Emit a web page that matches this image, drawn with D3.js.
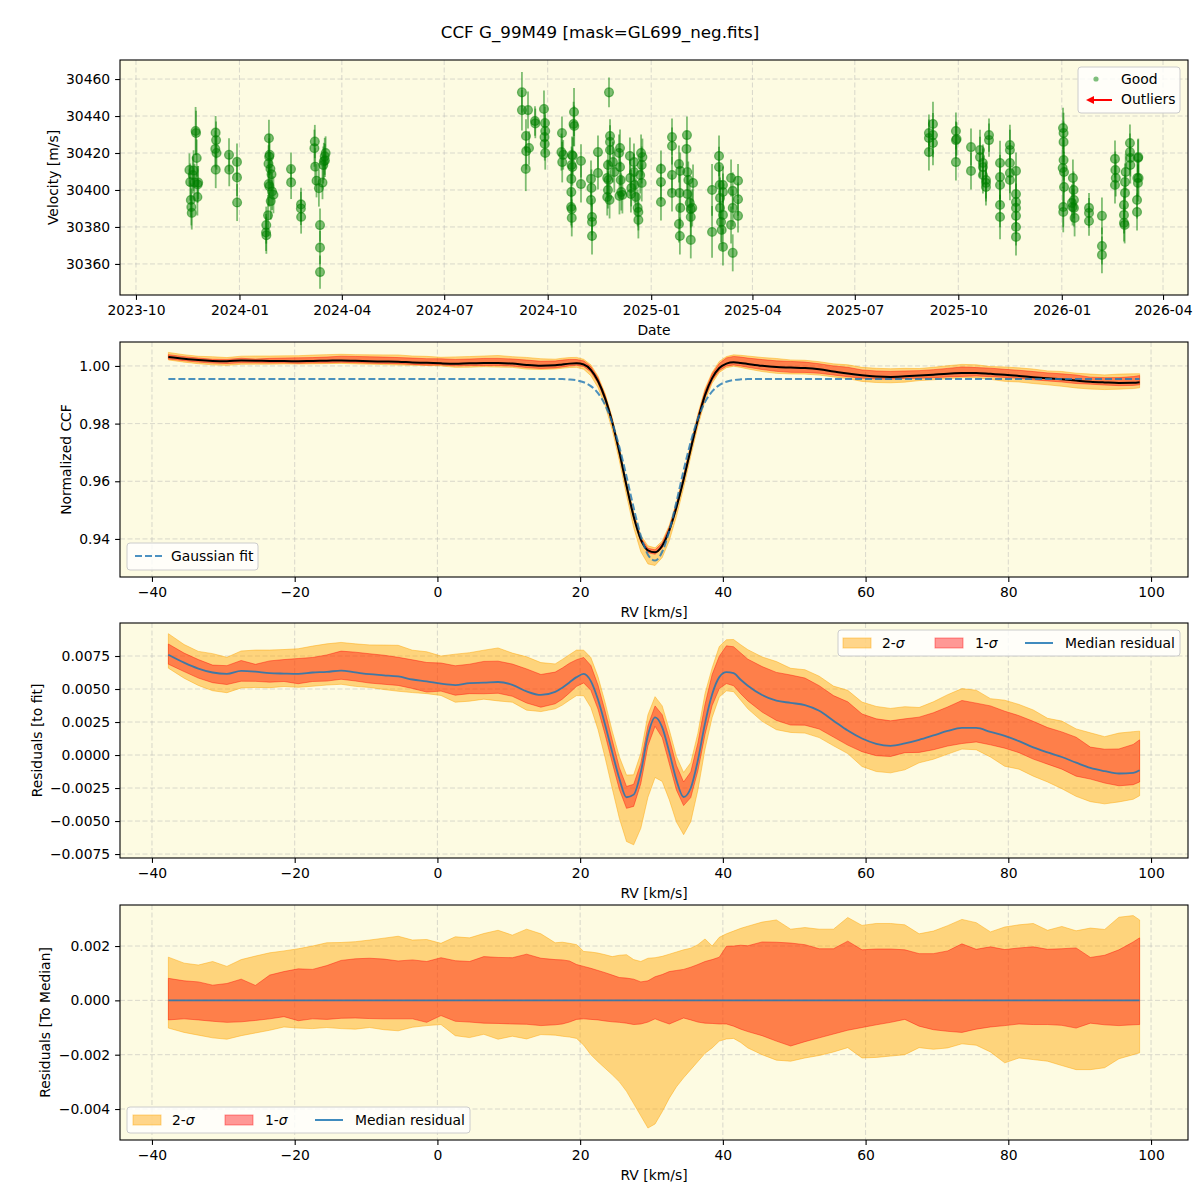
<!DOCTYPE html>
<html>
<head>
<meta charset="utf-8">
<script src="https://cdn.jsdelivr.net/npm/d3@7"></script>
<style>
  body { margin: 0; background: #fff; }
</style>
</head>
<body>
<div id="chart"></div>
<script>
// ---------- data: RV time series (MJD, m/s) ----------
const obsMjd = [
  60265.5,60266.2,60266.8,60267.2,60267.6,60268.5,60269.2,60270.0,60271.0,60271.4,60272.0,60272.6,60273.3,60272.8,
  60288.8,60289.2,60288.5,60289.6,60288.9,
  60300.7,60300.9,
  60307.8,60307.8,60307.9,
  60336.2,60336.8,60336.4,60335.8,60337.5,60338.5,60336.0,60336.6,60339.0,60340.2,60337.8,60335.4,60333.8,60333.6,60333.9,
  60355.8,60355.9,
  60364.7,60364.6,60364.8,
  60377.0,60376.6,60377.3,60378.5,60380.6,60381.6,60381.6,60381.6,60383.8,60384.5,60385.0,60385.8,60386.6,60386.0,
  // season 2
  60561.1,60561.1,60566.5,60564.7,60564.9,60564.5,60567.4,60572.7,60573.0,60580.7,
  60581.6,60581.8,60581.2,60581.4,60581.8,
  60596.7,60596.2,60596.9,60597.8,
  60607.4,60607.0,60607.6,
  60605.6,60606.3,60605.9,60605.2,60605.0,60605.0,60604.8,60605.4,60605.4,
  60613.6,60613.6,
  60622.5,60622.9,60622.5,60623.4,60623.4,60623.4,
  60628.7,60628.7,
  60638.5,60639.4,60639.4,60639.4,
  60637.6,60636.9,60638.0,60637.6,60636.9,60639.0,
  60642.0,60643.2,
  60648.3,60647.4,60648.3,60648.9,60649.4,60650.4,60647.8,
  60657.1,60657.4,60658.3,60658.0,
  60660.7,60660.7,60661.3,60662.4,
  60667.0,60668.2,60667.6,60666.2,60667.6,60664.0,60664.6,60664.6,
  60684.7,60684.7,60684.7,
  60694.5,60694.5,60694.5,60694.5,
  60700.7,60701.8,60701.2,60701.8,60700.7,60701.5,
  60707.8,60707.4,60708.1,60709.0,60708.1,60710.3,60711.2,60712.5,60711.2,60711.2,
  60713.2,
  60730.1,60730.1,
  60736.3,60736.3,60736.9,60737.2,60737.2,60738.1,60738.7,
  60739.8,60739.8,60739.8,60739.8,
  60747.0,60747.0,60748.5,60748.5,60748.5,
  60753.2,60753.2,60753.2,
  // season 3
  60922.9,60922.9,60922.9,60926.5,60926.5,60926.5,
  60946.9,60946.9,60946.9,60947.5,
  60960.3,60960.3,
  60968.3,60968.3,60970.9,60970.9,60970.9,60973.6,60973.6,60973.6,
  60976.3,60976.3,
  60986.1,60986.1,60986.1,60986.1,60986.1,
  60994.9,60994.9,60994.9,60994.9,60994.9,
  61000.3,61000.3,61000.3,61000.3,61000.3,61000.3,61000.3,
  61042.1,61042.6,61042.6,61041.8,61042.6,61043.0,61043.0,61042.3,61042.3,
  61050.9,61051.5,61051.8,61051.8,61052.4,61050.6,61050.0,
  61065.2,61065.2,61065.2,
  61076.7,61076.7,61076.7,
  61088.3,61088.6,61088.3,61089.0,
  61096.3,61096.3,61096.3,61096.9,61097.2,61097.2,61097.8,
  61101.6,61101.6,61101.9,61101.9,
  61107.9,61107.9,61108.1,61108.7,61109.0,61109.3,61108.7
];
const obsVel = [
  30410.8,30404.3,30394.6,30390.8,30387.6,30408.1,30410.5,30404.0,30431.9,30430.8,30417.3,30396.2,30404.0,30403.0,
  30431.0,30427.0,30422.2,30420.0,30411.0,
  30419.0,30411.0,
  30415.2,30406.8,30393.2,
  30428.0,30419.0,30418.0,30414.2,30411.5,30408.5,30403.2,30402.0,30399.2,30397.4,30394.0,30386.3,30381.0,30377.0,30375.5,
  30411.3,30404.1,
  30392.2,30390.0,30385.4,
  30426.2,30422.6,30412.6,30405.0,30401.0,30381.0,30368.8,30355.6,30404.0,30413.5,30415.5,30418.2,30420.0,30416.0,
  30452.8,30443.2,30443.2,30429.2,30421.0,30411.4,30422.7,30437.3,30436.0,30443.8,
  30436.2,30431.9,30428.6,30424.9,30420.0,
  30430.8,30420.5,30415.1,30419.0,
  30442.2,30435.7,30434.6,
  30418.9,30418.4,30412.4,30413.5,30406.0,30398.9,30390.8,30389.7,30384.9,
  30415.7,30403.2,
  30406.0,30401.1,30394.6,30385.4,30382.7,30375.1,
  30420.5,30409.2,
  30452.8,30429.2,30426.0,30421.6,
  30413.5,30406.5,30405.4,30400.0,30396.2,30394.6,
  30415.1,30409.7,
  30422.7,30420.0,30412.4,30405.4,30398.9,30397.3,30396.8,
  30418.4,30406.5,30401.1,30397.8,
  30415.1,30409.7,30402.7,30396.2,
  30420.0,30417.8,30413.5,30408.1,30403.8,30390.3,30388.1,30383.8,
  30411.4,30404.3,30393.5,
  30428.6,30423.8,30408.1,30398.4,
  30414.0,30410.3,30398.4,30390.3,30381.6,30375.1,
  30429.7,30422.2,30409.7,30405.4,30397.8,30393.0,30389.7,30390.3,30385.4,30373.0,
  30403.8,
  30400.0,30377.3,
  30418.4,30412.4,30402.7,30395.7,30390.3,30382.7,30378.4,
  30369.2,30386.5,30402.7,30398.9,
  30406.5,30381.1,30399.5,30390.3,30366.0,
  30405.0,30395.0,30386.0,
  30430.8,30428.1,30420.5,30435.7,30429.7,30425.4,
  30431.9,30427.0,30415.1,30427.6,
  30423.2,30410.3,
  30421.6,30417.8,30414.6,30412.4,30408.1,30405.4,30401.6,30403.8,
  30429.7,30427.0,
  30414.6,30407.0,30402.7,30391.9,30385.4,
  30424.3,30421.6,30414.6,30409.2,30405.4,
  30410.3,30397.8,30393.5,30390.3,30386.0,30380.0,30374.6,
  30433.5,30430.8,30426.0,30411.9,30416.2,30409.7,30401.6,30390.8,30388.1,
  30406.5,30400.0,30394.6,30390.3,30384.9,30390.8,30393.0,
  30390.3,30383.2,30387.6,
  30386.0,30369.7,30364.9,
  30416.8,30410.8,30402.7,30406.5,
  30391.9,30386.5,30382.2,30381.1,30404.3,30398.4,30409.7,
  30425.4,30420.5,30413.5,30417.3,
  30394.6,30388.1,30406.5,30417.3,30417.8,30406.5,30403.8
];
const obsErr = [
  9,10,9,10,9,10,11,10,13,12,10,10,9,10,
  9,10,10,9,10,
  9,9,
  10,10,10,
  10,11,10,10,9,9,12,11,10,10,10,11,10,10,10,
  9,9,
  9,9,9,
  9,10,10,9,10,9,9,9,9,10,10,10,9,9,
  11,11,10,9,10,12,9,8,8,10,
  9,9,9,9,9,
  9,10,11,8,
  13,12,11,
  10,10,10,10,10,10,10,10,10,
  9,10,
  10,10,10,10,10,10,
  9,9,
  8,9,9,9,
  10,10,10,10,10,10,
  11,11,
  10,10,10,10,10,10,10,
  10,10,10,10,
  10,10,10,10,
  10,10,10,10,10,10,10,10,
  10,10,10,
  10,10,10,10,
  10,10,10,10,10,10,
  10,10,10,10,10,10,10,10,10,10,
  10,
  14,14,
  11,11,11,11,11,11,11,
  10,10,10,10,
  10,10,10,10,10,
  9,9,9,
  10,10,10,12,12,12,
  10,10,10,9,
  10,10,
  11,11,10,10,10,10,10,10,
  9,9,
  12,12,12,12,12,
  11,11,11,11,11,
  10,10,10,10,10,10,10,
  11,11,11,11,11,11,11,11,11,
  10,10,10,10,10,10,10,
  8,8,8,
  10,10,10,
  10,10,10,10,
  10,10,10,10,10,10,10,
  10,10,10,10,
  10,10,10,10,10,10,10
];

// ---------- data: CCF profiles on the RV grid (km/s) ----------
const rvGrid = [
  -37.7,-35.5,-33.5,-31.5,-29.5,-27.5,-25.5,-23.5,-21.5,-19.5,-17.5,-15.5,-13.5,-11.5,-9.5,-7.5,-5.5,-3.5,-1.5,0.5,2.5,4.5,6.5,8.5,10.5,12.5,14.5,16.5,
  17.5,18.5,19.5,20.5,21.5,22.5,23.5,24.5,25.5,26.5,27.5,28.5,29.5,30.5,31.5,32.5,33.5,34.5,35.5,36.5,37.5,38.5,39.5,40.5,41.5,42.5,43.5,
  45.5,47.5,49.5,51.5,53.5,55.5,57.5,59.5,61.5,63.5,65.5,67.5,69.5,71.5,73.5,75.5,77.5,79.5,81.5,83.5,85.5,87.5,89.5,91.5,93.5,95.5,97.5,98.4
];
const ccfMedian = [
  1.0031,1.0025,1.00205,1.00175,1.00165,1.00188,1.00182,1.0017,1.00167,1.00165,1.00175,1.0018,1.0019,1.00176,1.00162,1.00154,1.00145,1.00122,1.00108,1.0009,1.0008,1.00095,1.00098,1.00103,1.00082,1.00032,1.00005,1.00022,
  1.00053,1.0008,1.00091,1.00049,0.99861,0.99477,0.98877,0.98049,0.97006,0.95844,0.9478,0.93983,0.93605,0.93535,0.93764,0.94308,0.95104,0.9606,0.97121,0.9813,0.98986,0.99577,0.99926,1.0008,1.00129,1.00104,1.0007,
  1.00005,0.99962,0.99945,0.99928,0.99885,0.9981,0.99735,0.99675,0.99635,0.9962,0.99638,0.99665,0.99698,0.99732,0.99755,0.99755,0.99725,0.99695,0.99655,0.99608,0.9957,0.99535,0.99492,0.99452,0.99428,0.9941,0.99415,0.99435
];
const gaussFit = [
  0.9955,0.9955,0.9955,0.9955,0.9955,0.9955,0.9955,0.9955,0.9955,0.9955,0.9955,0.9955,0.9955,0.9955,0.9955,0.9955,0.9955,0.9955,0.9955,0.9955,0.9955,0.9955,0.9955,0.9955,0.9955,0.9955,0.9955,0.99546,
  0.99543,0.9953,0.99501,0.99435,0.99301,0.99057,0.98647,0.98029,0.97186,0.96164,0.9508,0.94113,0.93455,0.9325,0.93554,0.94288,0.95294,0.96378,0.97371,0.9817,0.98746,0.99117,0.99336,0.99452,0.99509,0.99534,0.99545,
  0.9955,0.9955,0.9955,0.9955,0.9955,0.9955,0.9955,0.9955,0.9955,0.9955,0.9955,0.9955,0.9955,0.9955,0.9955,0.9955,0.9955,0.9955,0.9955,0.9955,0.9955,0.9955,0.9955,0.9955,0.9955,0.9955,0.9955,0.9955
];
const residFit = [
  0.0076,0.007,0.00655,0.00625,0.00615,0.00638,0.00632,0.0062,0.00617,0.00615,0.00625,0.0063,0.0064,0.00626,0.00612,0.00604,0.00595,0.00572,0.00558,0.0054,0.0053,0.00545,0.00548,0.00553,0.00532,0.00482,0.00455,0.00478,
  0.0051,0.0055,0.0059,0.00614,0.0056,0.0042,0.0023,0.0002,-0.0018,-0.0032,-0.003,-0.0013,0.0015,0.00285,0.0021,0.0002,-0.0019,-0.00318,-0.0025,-0.0004,0.0024,0.0046,0.0059,0.00628,0.0062,0.0057,0.00525,
  0.00455,0.00412,0.00395,0.00378,0.00335,0.0026,0.00185,0.00125,0.00085,0.0007,0.00088,0.00115,0.00148,0.00182,0.00205,0.00205,0.00175,0.00145,0.00105,0.00058,0.0002,-0.00015,-0.00058,-0.00098,-0.00122,-0.0014,-0.00135,-0.00115
];
// spread of the individual CCFs around the median (quantile - median)
const sig2Hi = [
  0.00159,0.00137,0.0013,0.00143,0.00125,0.0015,0.00163,0.00175,0.00182,0.0019,0.002,0.00212,0.00213,0.00216,0.00222,0.00229,0.00236,0.00222,0.00224,0.0021,0.00234,0.0023,0.00246,0.00258,0.0024,0.00262,0.00245,0.00212,
  0.00214,0.0021,0.00205,0.0018,0.00178,0.00174,0.00168,0.00161,0.00166,0.00168,0.0015,0.00143,0.00155,0.00157,0.00162,0.0017,0.00178,0.00186,0.00192,0.00205,0.00226,0.002,0.00232,0.00245,0.00255,0.00265,0.00273,
  0.00288,0.00296,0.00262,0.00268,0.00262,0.00262,0.00305,0.00276,0.00283,0.00283,0.00278,0.00245,0.00255,0.00275,0.00298,0.00286,0.00252,0.0027,0.00278,0.00283,0.00258,0.00272,0.00256,0.00266,0.00261,0.00306,0.00312,0.00296
];
const sig1Hi = [
  0.00081,0.00072,0.00068,0.00056,0.00062,0.00078,0.00055,0.00093,0.00106,0.00116,0.00114,0.00128,0.00147,0.00153,0.00155,0.00152,0.00145,0.00149,0.00143,0.00157,0.00146,0.00143,0.00161,0.00158,0.00157,0.0017,0.00155,0.0015,
  0.00149,0.00145,0.00132,0.00125,0.00118,0.0011,0.00102,0.00093,0.00084,0.00082,0.00078,0.00068,0.00072,0.00087,0.00095,0.00106,0.0011,0.00114,0.00122,0.00132,0.00143,0.0015,0.00159,0.00199,0.002,0.00203,0.00201,
  0.00215,0.00214,0.00211,0.00205,0.0019,0.0019,0.00218,0.00186,0.00189,0.00189,0.00186,0.00172,0.00172,0.00182,0.00208,0.00188,0.00197,0.00187,0.00193,0.00197,0.00188,0.0019,0.00193,0.00158,0.00166,0.00186,0.00215,0.0023
];
const sig1Lo = [
  -0.00072,-0.00068,-0.00072,-0.00077,-0.00081,-0.00079,-0.00074,-0.00068,-0.0006,-0.00075,-0.00068,-0.0007,-0.00066,-0.00065,-0.00067,-0.00068,-0.00068,-0.00068,-0.00081,-0.00056,-0.00077,-0.0008,-0.00084,-0.00085,-0.00087,-0.00088,-0.00093,-0.0009,
  -0.00087,-0.0008,-0.0007,-0.00068,-0.0007,-0.00072,-0.00076,-0.00079,-0.00081,-0.00084,-0.00089,-0.00087,-0.0008,-0.00068,-0.00078,-0.00087,-0.00076,-0.00065,-0.00072,-0.0008,-0.00084,-0.00085,-0.00087,-0.00087,-0.00095,-0.00106,-0.00115,
  -0.0013,-0.0015,-0.00168,-0.00152,-0.00138,-0.00124,-0.0011,-0.001,-0.0009,-0.00081,-0.0007,-0.00095,-0.00108,-0.00114,-0.00118,-0.00106,-0.00098,-0.00093,-0.00087,-0.00089,-0.00089,-0.00092,-0.00102,-0.00084,-0.0009,-0.00093,-0.0009,-0.00089
];
const sig2Lo = [
  -0.00102,-0.00118,-0.00128,-0.00138,-0.00143,-0.0013,-0.0012,-0.0011,-0.00098,-0.00102,-0.00104,-0.001,-0.00104,-0.00106,-0.001,-0.00108,-0.00112,-0.00099,-0.00093,-0.00089,-0.0013,-0.00137,-0.00125,-0.00143,-0.00132,-0.00142,-0.00126,-0.00128,
  -0.00132,-0.00135,-0.0014,-0.00165,-0.002,-0.00226,-0.0025,-0.00274,-0.003,-0.00335,-0.0038,-0.00425,-0.0047,-0.00455,-0.0041,-0.0036,-0.00318,-0.00285,-0.00255,-0.00225,-0.00195,-0.00175,-0.0015,-0.00142,-0.0014,-0.00155,-0.00175,
  -0.002,-0.0022,-0.00224,-0.00212,-0.00203,-0.0019,-0.00174,-0.00212,-0.0021,-0.00205,-0.002,-0.00174,-0.0018,-0.00175,-0.0016,-0.00165,-0.0019,-0.0023,-0.00212,-0.00218,-0.00224,-0.0024,-0.00255,-0.00255,-0.00248,-0.00215,-0.002,-0.00193
];

// tick values
const velTicks = [30360, 30380, 30400, 30420, 30440, 30460];
const rvTicks = [-40, -20, 0, 20, 40, 60, 80, 100];
const ccfTicks = [0.94, 0.96, 0.98, 1.00];
const resTicks = [-0.0075, -0.005, -0.0025, 0, 0.0025, 0.005, 0.0075];
const medTicks = [-0.004, -0.002, 0, 0.002];

// ---------- layout ----------
const W = 1200, H = 1200;
const left = 120, right = 1188, panelH = 235;
const tops = [60, 342, 623, 905];
const FS = 13.9;
const FONT = "'DejaVu Sans', sans-serif";
const bg = "#fdfbe2";

const svg = d3.select("#chart").append("svg")
  .attr("width", W).attr("height", H)
  .style("font-family", FONT);
svg.append("rect").attr("width", W).attr("height", H).attr("fill", "#fff");

svg.append("text").attr("x", 600).attr("y", 38).attr("text-anchor", "middle")
  .attr("font-size", 16.7).text("CCF G_99M49 [mask=GL699_neg.fits]");

const mjdToDate = m => new Date((m - 40587) * 86400000);

function frame(top, xs, ys, xt, yt) {
  const g = svg.append("g");
  g.append("rect").attr("x", left).attr("y", top).attr("width", right - left).attr("height", panelH).attr("fill", bg);
  const grid = g.append("g").attr("stroke", "#b0b0b0").attr("stroke-opacity", 0.6)
    .attr("stroke-width", 0.8).attr("stroke-dasharray", "5,2.5");
  grid.selectAll(".vx").data(xt).join("line")
    .attr("x1", d => xs(d)).attr("x2", d => xs(d)).attr("y1", top).attr("y2", top + panelH);
  grid.selectAll(".hy").data(yt).join("line")
    .attr("x1", left).attr("x2", right).attr("y1", d => ys(d)).attr("y2", d => ys(d));
  return g;
}

function styleAxis(g) {
  g.attr("font-size", FS).attr("font-family", FONT);
  g.select(".domain").remove();
  g.selectAll(".tick line").attr("stroke-width", 1.1);
  g.selectAll(".tick text").attr("fill", "#000");
}

function axes(top, xAxis, yAxis, xLabel, yLabel, yLabelX) {
  svg.append("g").attr("transform", `translate(0,${top + panelH})`).call(xAxis).call(styleAxis);
  svg.append("g").attr("transform", `translate(${left},0)`).call(yAxis).call(styleAxis);
  svg.append("rect").attr("x", left).attr("y", top).attr("width", right - left).attr("height", panelH)
    .attr("fill", "none").attr("stroke", "#000").attr("stroke-width", 1.1);
  svg.append("text").attr("x", (left + right) / 2).attr("y", top + panelH + 40)
    .attr("text-anchor", "middle").attr("font-size", FS).text(xLabel);
  svg.append("text")
    .attr("transform", `translate(${yLabelX},${top + panelH / 2}) rotate(-90)`)
    .attr("dy", "0.35em").attr("text-anchor", "middle").attr("font-size", FS).text(yLabel);
}

function legendBox(x, y, w, h) {
  svg.append("rect").attr("x", x).attr("y", y).attr("width", w).attr("height", h).attr("rx", 3)
    .attr("fill", "#fff").attr("fill-opacity", 0.8).attr("stroke", "#cccccc").attr("stroke-width", 1);
}

function sigmaLabel(x, y, n) {
  const t = svg.append("text").attr("x", x).attr("y", y).attr("dy", "0.35em").attr("font-size", FS);
  t.append("tspan").text(n + "-");
  t.append("tspan").attr("font-style", "italic").text("σ");
}

function bandLegend(x, y) {
  // y is the row centre line
  svg.append("rect").attr("x", x).attr("y", y - 5).attr("width", 28).attr("height", 10)
    .attr("fill", "orange").attr("fill-opacity", 0.45).attr("stroke", "orange").attr("stroke-opacity", 0.45);
  sigmaLabel(x + 39, y, 2);
  svg.append("rect").attr("x", x + 92).attr("y", y - 5).attr("width", 28).attr("height", 10)
    .attr("fill", "red").attr("fill-opacity", 0.4).attr("stroke", "red").attr("stroke-opacity", 0.4);
  sigmaLabel(x + 132, y, 1);
  svg.append("line").attr("x1", x + 182).attr("x2", x + 210).attr("y1", y).attr("y2", y)
    .attr("stroke", "#1f77b4").attr("stroke-opacity", 0.85).attr("stroke-width", 2);
  svg.append("text").attr("x", x + 222).attr("y", y).attr("dy", "0.35em").attr("font-size", FS).text("Median residual");
}

const rvX = d3.scaleLinear().domain([-44.48, 105.18]).range([left, right]);
const rvAxis = d3.axisBottom(rvX).tickValues(rvTicks).tickFormat(d3.format("d")).tickSize(4.9).tickPadding(4.9);
const idx = d3.range(rvGrid.length);

function drawBands(g, ys, base) {
  const band = (lo, hi) => d3.area()
    .x(i => rvX(rvGrid[i])).y0(i => ys(base[i] + lo[i])).y1(i => ys(base[i] + hi[i]));
  g.append("path").datum(idx).attr("d", band(sig2Lo, sig2Hi))
    .attr("fill", "orange").attr("fill-opacity", 0.45)
    .attr("stroke", "orange").attr("stroke-opacity", 0.45).attr("stroke-width", 1);
  g.append("path").datum(idx).attr("d", band(sig1Lo, sig1Hi))
    .attr("fill", "red").attr("fill-opacity", 0.4)
    .attr("stroke", "red").attr("stroke-opacity", 0.4).attr("stroke-width", 1);
}

// ---------- panel 1: RV time series ----------
{
  const top = tops[0];
  const x = d3.scaleUtc().domain([mjdToDate(60203.8), mjdToDate(61153.2)]).range([left, right]);
  const y = d3.scaleLinear().domain([30343.2, 30470.3]).range([top + panelH, top]);
  const monthTicks = d3.utcMonth.every(3).range(mjdToDate(60203.8), mjdToDate(61153.2));
  const g = frame(top, x, y, monthTicks, velTicks);
  const pts = obsMjd.map((m, i) => ({ t: mjdToDate(m), v: obsVel[i], e: obsErr[i] }));
  g.append("g").selectAll("line").data(pts).join("line")
    .attr("x1", d => x(d.t)).attr("x2", d => x(d.t))
    .attr("y1", d => y(d.v - d.e)).attr("y2", d => y(d.v + d.e))
    .attr("stroke", "green").attr("stroke-opacity", 0.5).attr("stroke-width", 1.8);
  g.append("g").selectAll("circle").data(pts).join("circle")
    .attr("cx", d => x(d.t)).attr("cy", d => y(d.v)).attr("r", 4.4)
    .attr("fill", "green").attr("fill-opacity", 0.5)
    .attr("stroke", "green").attr("stroke-opacity", 0.5).attr("stroke-width", 1.3);

  axes(top,
    d3.axisBottom(x).tickValues(monthTicks).tickFormat(d3.utcFormat("%Y-%m")).tickSize(4.9).tickPadding(4.9),
    d3.axisLeft(y).tickValues(velTicks).tickFormat(d3.format("d")).tickSize(4.9).tickPadding(4.9),
    "Date", "Velocity [m/s]", 53);

  legendBox(1078, 67, 102, 46);
  svg.append("circle").attr("cx", 1096).attr("cy", 79).attr("r", 2.6)
    .attr("fill", "green").attr("fill-opacity", 0.5);
  svg.append("text").attr("x", 1121).attr("y", 79).attr("dy", "0.35em").attr("font-size", FS).text("Good");
  svg.append("line").attr("x1", 1112).attr("x2", 1092).attr("y1", 100).attr("y2", 100)
    .attr("stroke", "red").attr("stroke-width", 2);
  svg.append("path").attr("d", "M1086,100 L1094,96 L1094,104 Z").attr("fill", "red");
  svg.append("text").attr("x", 1121).attr("y", 99).attr("dy", "0.35em").attr("font-size", FS).text("Outliers");
}

// ---------- panel 2: normalized CCF ----------
{
  const top = tops[1];
  const y = d3.scaleLinear().domain([0.9268, 1.0083]).range([top + panelH, top]);
  const g = frame(top, rvX, y, rvTicks, ccfTicks);
  drawBands(g, y, ccfMedian);
  g.append("path").datum(idx)
    .attr("d", d3.line().x(i => rvX(rvGrid[i])).y(i => y(ccfMedian[i])).curve(d3.curveMonotoneX))
    .attr("fill", "none").attr("stroke", "#000").attr("stroke-width", 2);
  g.append("path").datum(idx)
    .attr("d", d3.line().x(i => rvX(rvGrid[i])).y(i => y(gaussFit[i])).curve(d3.curveMonotoneX))
    .attr("fill", "none").attr("stroke", "#1f77b4").attr("stroke-opacity", 0.8)
    .attr("stroke-width", 2).attr("stroke-dasharray", "7,3");

  axes(top, rvAxis,
    d3.axisLeft(y).tickValues(ccfTicks).tickFormat(d3.format(".2f")).tickSize(4.9).tickPadding(4.9),
    "RV [km/s]", "Normalized CCF", 66);

  legendBox(127, 543, 131, 27);
  svg.append("line").attr("x1", 135).attr("x2", 163).attr("y1", 556).attr("y2", 556)
    .attr("stroke", "#1f77b4").attr("stroke-opacity", 0.8).attr("stroke-width", 2).attr("stroke-dasharray", "7,3");
  svg.append("text").attr("x", 171).attr("y", 556).attr("dy", "0.35em").attr("font-size", FS).text("Gaussian fit");
}

// ---------- panel 3: residuals to fit ----------
{
  const top = tops[2];
  const y = d3.scaleLinear().domain([-0.0078, 0.0100]).range([top + panelH, top]);
  const g = frame(top, rvX, y, rvTicks, resTicks);
  drawBands(g, y, residFit);
  g.append("path").datum(idx)
    .attr("d", d3.line().x(i => rvX(rvGrid[i])).y(i => y(residFit[i])).curve(d3.curveMonotoneX))
    .attr("fill", "none").attr("stroke", "#1f77b4").attr("stroke-opacity", 0.85).attr("stroke-width", 1.8);

  axes(top, rvAxis,
    d3.axisLeft(y).tickValues(resTicks).tickFormat(d3.format(".4f")).tickSize(4.9).tickPadding(4.9),
    "RV [km/s]", "Residuals [to fit]", 37);

  legendBox(838, 630, 342, 26);
  bandLegend(843, 643);
}

// ---------- panel 4: residuals to median ----------
{
  const top = tops[3];
  const y = d3.scaleLinear().domain([-0.00514, 0.00351]).range([top + panelH, top]);
  const g = frame(top, rvX, y, rvTicks, medTicks);
  const zero = rvGrid.map(() => 0);
  drawBands(g, y, zero);
  g.append("path").datum(idx)
    .attr("d", d3.line().x(i => rvX(rvGrid[i])).y(i => y(zero[i])))
    .attr("fill", "none").attr("stroke", "#1f77b4").attr("stroke-opacity", 0.85).attr("stroke-width", 1.8);

  axes(top, rvAxis,
    d3.axisLeft(y).tickValues(medTicks).tickFormat(d3.format(".3f")).tickSize(4.9).tickPadding(4.9),
    "RV [km/s]", "Residuals [To Median]", 45);

  legendBox(127, 1107, 343, 26);
  bandLegend(133, 1120);
}
</script>
</body>
</html>
